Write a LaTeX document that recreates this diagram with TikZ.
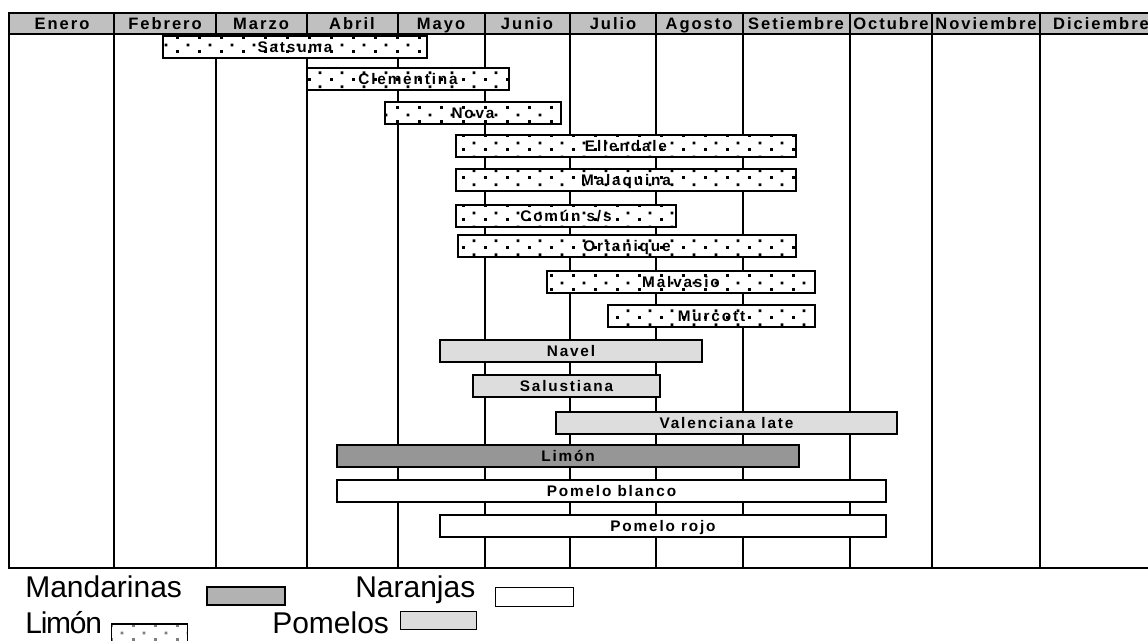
\documentclass[tikz,border=0pt]{standalone}
\usepackage{fontspec}
\setmainfont{Liberation Sans}
\newfontfamily\spacedfont[LetterSpace=12]{Liberation Sans}
\newfontfamily\tightfont[LetterSpace=-4]{Liberation Sans}
\usetikzlibrary{patterns}
\pgfdeclarepatternformonly{sparsedots}{\pgfpointorigin}{\pgfqpoint{16.5pt}{10.5pt}}{\pgfqpoint{16.5pt}{10.5pt}}{%
	\pgfpathrectangle{\pgfqpoint{0pt}{0pt}}{\pgfqpoint{2.2pt}{2.2pt}}%
	\pgfpathrectangle{\pgfqpoint{8.25pt}{5.25pt}}{\pgfqpoint{2.2pt}{2.2pt}}%
	\pgfusepath{fill}}
\definecolor{headgray}{HTML}{C0C0C0}
\definecolor{lightbar}{HTML}{DDDDDD}
\definecolor{darkbar}{HTML}{969696}
\definecolor{midgray}{HTML}{B2B2B2}
\tikzset{
	month/.style = {font = \spacedfont\bfseries\fontsize{12.4}{14}\selectfont, inner sep = 0pt},
	bar/.style = {draw = black, line width = 0.8pt, minimum height = 16.5pt, inner sep = 0pt,
		text height = 8.2pt, text depth = 0pt, font = \spacedfont\bfseries\fontsize{11.5}{13}\selectfont},
	dotbar/.style = {bar, preaction = {fill = white}, pattern = sparsedots},
	naranja/.style = {bar, fill = white},
	pomelo/.style = {bar, fill = lightbar},
	limonbar/.style = {bar, fill = darkbar},
	legtext/.style = {font = \fontsize{22.5}{26}\selectfont, inner sep = 0pt, anchor = base west},
	legbox/.style = {draw = black, line width = 0.8pt, inner sep = 0pt}
}

\begin{document}
\begin{tikzpicture}[x = 0.75pt, y = -0.75pt]
			\useasboundingbox[fill = white] (0, 0) rectangle (1148, 641);
			\fill[headgray] (9, 13) rectangle (1152, 34);
			\foreach \x in {114, 216, 307, 398, 485, 570, 656, 743, 850, 932, 1040}
			\draw[line width = 1.7pt] (\x, 13) -- (\x, 568);
			\draw[line width = 1.7pt] (9, 34) -- (1152, 34);
			\draw[line width = 1.7pt] (1152, 13) -- (9, 13) -- (9, 568) -- (1152, 568);
			\foreach \m/\c [count = \i] in {Enero/62, Febrero/165, Marzo/261, Abril/352, Mayo/441, Junio/527,
				Julio/613, Agosto/699, Setiembre/796, Octubre/891, Noviembre/986, Diciembre/1101}
			\node[month, anchor = base] (m\i) at (\c, 30) {\m};
			\foreach \a/\b/\y/\s/\t [count = \i] in {163/427/47/dotbar/Satsuma,
				307/509/79/dotbar/Clementina,
				385/561/113/dotbar/Nova,
				456/796/146/dotbar/Ellendale,
				456/796/180/dotbar/Malaquina,
				456/676/216/dotbar/{Común s/s},
				458/796/246/dotbar/Ortanique,
				547/815/282/dotbar/Malvasio,
				608/815/316/dotbar/Murcott,
				440/702/351/pomelo/Navel,
				473/660/386/pomelo/Salustiana,
				556/897/423/pomelo/Valenciana late,
				337/799/456/limonbar/Limón,
				337/886/491/naranja/Pomelo blanco,
				440/886/526/naranja/Pomelo rojo}
			\node[\s, minimum width = {(\b - \a) * 0.75pt}] (bar\i) at ({(\a + \b) / 2}, \y) {\t};
			\node[legtext] (mandarinas) at (25, 597) {Mandarinas};
			\node[legbox, fill = midgray, minimum width = 58.5pt, minimum height = 13.5pt] (mandbox) at (246, 596) {};
			\node[legtext] (naranjas) at (355, 597) {Naranjas};
			\node[legbox, fill = white, minimum width = 58pt, minimum height = 14pt] (narbox) at (534.5, 597) {};
			\node[legtext, font = \tightfont\fontsize{22.5}{26}\selectfont] (limon) at (25, 633) {Limón};
			\node[legbox, preaction = {fill = white}, pattern = sparsedots, pattern color = gray,
				minimum width = 57.5pt, minimum height = 18pt] (limbox) at (149.5, 636) {};
			\node[legtext] (pomelos) at (272, 633) {Pomelos};
			\node[legbox, fill = lightbar, minimum width = 57pt, minimum height = 14pt] (pombox) at (438.5, 620.5) {};
\end{tikzpicture}
\end{document}
